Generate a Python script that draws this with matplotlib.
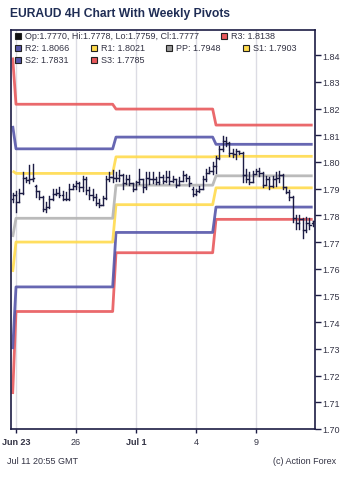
import matplotlib
matplotlib.use("Agg")
import matplotlib.pyplot as plt
from matplotlib.patches import Rectangle

# ---------------- data ----------------
# 4H bars (index -1 = Jun 20 20:00, 0 = Jun 23 00:00 ... 89 = Jul 11 20:00)
bar_index = list(range(-1, 90))
opens = [1.7860, 1.7875, 1.7850, 1.7885, 1.7940, 1.7932, 1.7935, 1.7910, 1.7890, 1.7870,
         1.7825, 1.7830, 1.7860, 1.7880, 1.7885, 1.7875, 1.7862, 1.7860, 1.7900, 1.7910,
         1.7920, 1.7905, 1.7935, 1.7895, 1.7875, 1.7870, 1.7845, 1.7840, 1.7865, 1.7935,
         1.7945, 1.7940, 1.7940, 1.7950, 1.7920, 1.7935, 1.7920, 1.7900, 1.7925, 1.7935,
         1.7905, 1.7940, 1.7935, 1.7935, 1.7925, 1.7945, 1.7930, 1.7945, 1.7930, 1.7935,
         1.7915, 1.7930, 1.7950, 1.7940, 1.7900, 1.7880, 1.7890, 1.7900, 1.7935, 1.7960,
         1.7965, 1.7985, 1.8015, 1.8050, 1.8080, 1.8070, 1.8035, 1.8030, 1.8040, 1.8035,
         1.7950, 1.7935, 1.7925, 1.7955, 1.7965, 1.7960, 1.7915, 1.7935, 1.7910, 1.7935,
         1.7940, 1.7950, 1.7905, 1.7888, 1.7870, 1.7790, 1.7770, 1.7785, 1.7745, 1.7770,
         1.7770]
highs = [1.7885, 1.7893, 1.7900, 1.7962, 1.7945, 1.7987, 1.7994, 1.7915, 1.7893, 1.7874,
         1.7850, 1.7874, 1.7900, 1.7900, 1.7906, 1.7893, 1.7887, 1.7918, 1.7918, 1.7930,
         1.7924, 1.7949, 1.7943, 1.7906, 1.7900, 1.7880, 1.7862, 1.7874, 1.7949, 1.7962,
         1.7968, 1.7962, 1.7968, 1.7955, 1.7950, 1.7950, 1.7922, 1.7930, 1.7975, 1.7937,
         1.7962, 1.7962, 1.7962, 1.7943, 1.7962, 1.7952, 1.7965, 1.7967, 1.7948, 1.7936,
         1.7942, 1.7967, 1.7955, 1.7948, 1.7905, 1.7898, 1.7911, 1.7948, 1.7973, 1.7980,
         1.7998, 1.8023, 1.8060, 1.8098, 1.8092, 1.8073, 1.8048, 1.8048, 1.8042, 1.8036,
         1.7973, 1.7961, 1.7967, 1.7973, 1.7979, 1.7961, 1.7948, 1.7942, 1.7948, 1.7961,
         1.7967, 1.7955, 1.7905, 1.7895, 1.7873, 1.7800, 1.7800, 1.7790, 1.7795, 1.7790,
         1.7778]
lows = [1.7850, 1.7812, 1.7850, 1.7880, 1.7925, 1.7920, 1.7930, 1.7868, 1.7862, 1.7818,
        1.7812, 1.7828, 1.7858, 1.7875, 1.7868, 1.7856, 1.7856, 1.7858, 1.7898, 1.7900,
        1.7893, 1.7893, 1.7880, 1.7862, 1.7856, 1.7837, 1.7831, 1.7838, 1.7862, 1.7930,
        1.7924, 1.7930, 1.7930, 1.7900, 1.7918, 1.7912, 1.7893, 1.7898, 1.7918, 1.7887,
        1.7900, 1.7918, 1.7920, 1.7918, 1.7918, 1.7920, 1.7923, 1.7917, 1.7923, 1.7905,
        1.7915, 1.7928, 1.7930, 1.7911, 1.7873, 1.7878, 1.7886, 1.7898, 1.7930, 1.7958,
        1.7955, 1.7960, 1.8010, 1.8040, 1.8060, 1.8023, 1.8018, 1.8011, 1.8030, 1.7925,
        1.7923, 1.7917, 1.7923, 1.7955, 1.7948, 1.7905, 1.7912, 1.7898, 1.7908, 1.7911,
        1.7923, 1.7898, 1.7884, 1.7858, 1.7775, 1.7749, 1.7749, 1.7717, 1.7736, 1.7749,
        1.7759]
closes = [1.7875, 1.7850, 1.7885, 1.7940, 1.7932, 1.7935, 1.7940, 1.7890, 1.7870, 1.7825,
          1.7830, 1.7860, 1.7880, 1.7885, 1.7875, 1.7862, 1.7860, 1.7900, 1.7910, 1.7920,
          1.7905, 1.7935, 1.7895, 1.7875, 1.7870, 1.7845, 1.7840, 1.7865, 1.7935, 1.7945,
          1.7940, 1.7940, 1.7950, 1.7920, 1.7935, 1.7920, 1.7900, 1.7925, 1.7935, 1.7905,
          1.7940, 1.7935, 1.7935, 1.7925, 1.7945, 1.7930, 1.7945, 1.7930, 1.7935, 1.7915,
          1.7930, 1.7950, 1.7940, 1.7920, 1.7880, 1.7890, 1.7900, 1.7935, 1.7960, 1.7965,
          1.7985, 1.8015, 1.8050, 1.8080, 1.8070, 1.8035, 1.8030, 1.8040, 1.8035, 1.7950,
          1.7935, 1.7925, 1.7955, 1.7965, 1.7960, 1.7915, 1.7935, 1.7910, 1.7935, 1.7940,
          1.7950, 1.7905, 1.7888, 1.7870, 1.7790, 1.7770, 1.7785, 1.7745, 1.7770, 1.7765,
          1.7777]

# weekly pivot levels: prior week, week of Jun 23, week of Jun 30, week of Jul 7
week_first_bar = [-1, 0, 30, 60]
pivot_R3 = [1.8391, 1.8216, 1.8198, 1.8138]
pivot_R2 = [1.8135, 1.8049, 1.8093, 1.8066]
pivot_R1 = [1.7966, 1.7957, 1.8019, 1.8021]
pivot_PP = [1.7719, 1.7789, 1.7913, 1.7948]
pivot_S1 = [1.7588, 1.7700, 1.7840, 1.7903]
pivot_S2 = [1.7299, 1.7532, 1.7736, 1.7831]
pivot_S3 = [1.7131, 1.7440, 1.7660, 1.7785]

tick_days = [0, 3, 6, 9, 12]
tick_labels = ["Jun 23", "26", "Jul 1", "4", "9"]
bold_ticks = ["Jun 23", "Jul 1"]

# ---------------- plot ----------------
NAVY = "#1c1c44"
C_RED = "#e8595c"
C_BLUE = "#5656aa"
C_YEL = "#ffdb4d"
C_GRAY = "#b4b4b4"
TXT = "#333344"
FS = 6.5

plt.rcParams['font.family'] = ['Liberation Sans', 'DejaVu Sans']

fig = plt.figure(figsize=(3.5, 4.81), dpi=100)
ax = fig.add_axes([11/350, 1-430/481, (315-11)/350, (430-31)/481])

xs = [i / 6 for i in bar_index]

def week_of(i):
    w = 0
    for k, fb in enumerate(week_first_bar):
        if i >= fb:
            w = k
    return w

levels = [(pivot_R3, C_RED), (pivot_S3, C_RED), (pivot_R2, C_BLUE), (pivot_S2, C_BLUE),
          (pivot_R1, C_YEL), (pivot_S1, C_YEL), (pivot_PP, C_GRAY)]
for vals, col in levels:
    ys = [vals[week_of(i)] for i in bar_index]
    ax.plot(xs, ys, color=col, lw=2.0, alpha=0.9, solid_capstyle='butt', zorder=2)

tick = 1 / 6 * 0.35
for x, o, h, l, c in zip(xs, opens, highs, lows, closes):
    ax.plot([x, x], [l, h], color=NAVY, lw=1.0, zorder=3)
    ax.plot([x - tick, x], [o, o], color=NAVY, lw=1.0, zorder=3)
    ax.plot([x, x + tick], [c, c], color=NAVY, lw=1.0, zorder=3)

ax.set_xlim(-0.25, 14.95)
ax.set_ylim(1.70, 1.8494)

ax.set_xticks(tick_days)
ax.set_xticklabels(tick_labels)
for lab in ax.get_xticklabels():
    if lab.get_text() in bold_ticks:
        lab.set_fontweight('bold')
ax.xaxis.grid(True, color="#dcdce4", lw=1.0)
ax.set_axisbelow(True)

yt = [1.70 + 0.01 * k for k in range(15)]
ax.set_yticks(yt)
ax.set_yticklabels([f"{v:.2f}" for v in yt])
ax.yaxis.tick_right()
ax.tick_params(axis='y', direction='out', length=4, width=1, color=NAVY,
               labelsize=FS, labelcolor=TXT, pad=1.5)
ax.tick_params(axis='x', direction='out', length=3, width=1, color=NAVY,
               labelsize=FS, labelcolor=TXT, pad=3)
for s in ax.spines.values():
    s.set_color(NAVY)
    s.set_linewidth(1.2)

# title and footer
fig.text(10/350, 1-14/481, "EURAUD 4H Chart With Weekly Pivots", fontsize=8.7,
         fontweight='bold', color="#1f2d55", va='center', ha='left')
fig.text(7/350, 1-462/481, "Jul 11 20:55 GMT", fontsize=FS, color=TXT, va='center')
fig.text(336/350, 1-462/481, "(c) Action Forex", fontsize=FS, color=TXT,
         va='center', ha='right')

# legend
last = f"Op:{opens[-1]:.4f}, Hi:{highs[-1]:.4f}, Lo:{lows[-1]:.4f}, Cl:{closes[-1]:.4f}"
legend_items = [
    (15, 37, "#111111", last),
    (221, 37, C_RED, f"R3: {pivot_R3[-1]:.4f}"),
    (15, 49, C_BLUE, f"R2: {pivot_R2[-1]:.4f}"),
    (91, 49, C_YEL, f"R1: {pivot_R1[-1]:.4f}"),
    (166, 49, "#999999", f"PP: {pivot_PP[-1]:.4f}"),
    (243, 49, C_YEL, f"S1: {pivot_S1[-1]:.4f}"),
    (15, 61, C_BLUE, f"S2: {pivot_S2[-1]:.4f}"),
    (91, 61, C_RED, f"S3: {pivot_S3[-1]:.4f}"),
]
for px, py, col, txt in legend_items:
    fig.patches.append(Rectangle((px/350, 1-(py+3)/481), 6/350, 6/481,
                                 transform=fig.transFigure, facecolor=col,
                                 edgecolor="#222222", lw=0.8, zorder=5))
    fig.text((px+10)/350, 1-py/481, txt, fontsize=FS, color=TXT, va='center', ha='left')

fig.savefig("out.png", dpi=100)
